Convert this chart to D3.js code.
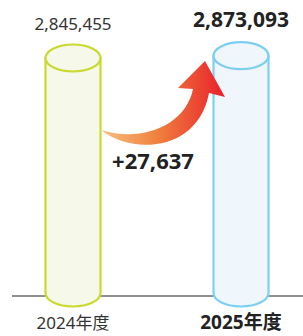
<!DOCTYPE html>
<html><head><meta charset="utf-8">
<script src="https://cdn.jsdelivr.net/npm/d3@7"></script>
<style>html,body{margin:0;padding:0;background:#fff;}svg{display:block;}</style>
</head><body>
<svg id="c" width="303" height="336"></svg>
<script>
const categories = ["2024年度", "2025年度"];
const values = [2845455, 2873093];
const diffLabel = "+27,637";

const W = 303, H = 336;
const svg = d3.select("#c");
const x = d3.scalePoint().domain(categories).range([73, 241]);
const bw = 55;
const y = d3.scaleLinear().domain([0, 2845455]).range([293, 58]);

const styles = [
  {stroke: "#cad92f", fill: "#f6f9ea", valSize: 17, valWeight: 400, catSize: 17, catWeight: 400, color: "#333"},
  {stroke: "#7ccff3", fill: "#eff7fd", valSize: 21, valWeight: 700, catSize: 19, catWeight: 700, color: "#222"}
];
const ry = 13.5;

// baseline
svg.append("line").attr("x1", 12).attr("x2", W).attr("y1", 296).attr("y2", 296)
  .attr("stroke", "#6b6b6b").attr("stroke-width", 1.3);

const g = svg.selectAll("g.cyl").data(categories.map((c, i) => ({c, v: values[i], s: styles[i]})))
  .enter().append("g").attr("class", "cyl");

g.append("path").attr("d", d => {
  const x0 = x(d.c) - bw / 2, x1 = x(d.c) + bw / 2, rx = bw / 2;
  const top = y(d.v), base = y(0);
  return `M${x0},${top} L${x0},${base} A${rx},${ry} 0 0 0 ${x1},${base} L${x1},${top} Z`;
}).attr("fill", d => d.s.fill).attr("stroke", d => d.s.stroke).attr("stroke-width", 2.2);

g.append("ellipse")
  .attr("cx", d => x(d.c)).attr("cy", d => y(d.v))
  .attr("rx", bw / 2).attr("ry", ry)
  .attr("fill", d => d.s.fill).attr("stroke", d => d.s.stroke).attr("stroke-width", 2.2);

const font = "'Noto Sans', 'Noto Sans CJK JP', sans-serif";
g.append("text")
  .attr("x", d => x(d.c))
  .attr("y", (d, i) => i === 0 ? 30 : 26.5)
  .attr("text-anchor", "middle").attr("font-family", font)
  .attr("font-size", d => d.s.valSize).attr("font-weight", d => d.s.valWeight)
  .attr("fill", d => d.s.color)
  .text(d => d3.format(",")(d.v));

g.append("text")
  .attr("x", d => x(d.c))
  .attr("y", 329)
  .attr("text-anchor", "middle").attr("font-family", font)
  .attr("font-size", d => d.s.catSize).attr("font-weight", d => d.s.catWeight)
  .attr("fill", d => d.s.color)
  .text(d => d.c);

// arrow
const defs = svg.append("defs");
const grad = defs.append("linearGradient").attr("id", "ag").attr("gradientUnits", "userSpaceOnUse")
  .attr("x1", 101).attr("y1", 0).attr("x2", 225).attr("y2", 0);
grad.append("stop").attr("offset", "0").attr("stop-color", "#f8c07e");
grad.append("stop").attr("offset", "0.45").attr("stop-color", "#f0813f");
grad.append("stop").attr("offset", "1").attr("stop-color", "#e8202a");

svg.append("path")
  .attr("d", "M101,130 C132,155 198,152 209,93 L225,97 L205,61 L178,88 L193,89 C186,125 142,143 101,130 Z")
  .attr("fill", "url(#ag)");

svg.append("text").attr("x", 153).attr("y", 169).attr("text-anchor", "middle")
  .attr("font-family", font).attr("font-size", 22).attr("font-weight", 700).attr("fill", "#222")
  .text(diffLabel);
</script>
</body></html>
